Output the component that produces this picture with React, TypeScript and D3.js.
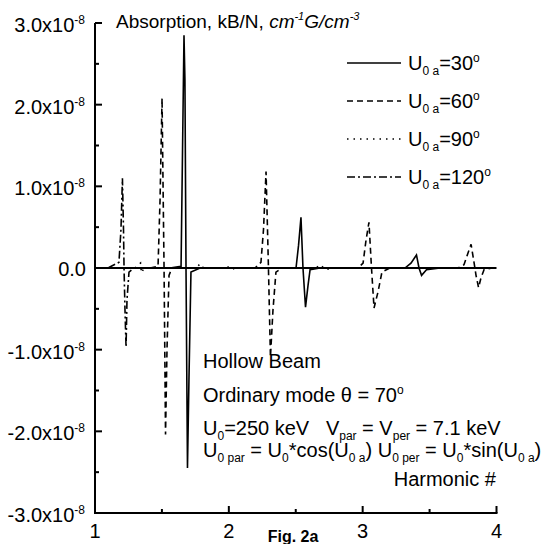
import React, { useEffect, useRef } from 'react';
import * as d3 from 'd3';

// harmonic number vs absorption (units of 1e-8)
const harm30 = [1.56, 1.643, 1.654, 1.665, 1.672, 1.68, 1.691, 1.702, 1.717, 1.785, 2.502, 2.521, 2.539, 2.554, 2.573, 2.592, 2.607, 2.681, 3.316, 3.361, 3.402, 3.421, 3.44, 3.477, 3.578];
const abs30 = [0, 0.02, 1.44, 2.85, 2.3, 0, -2.45, -1.37, -0.05, 0, 0, 0.28, 0.62, 0, -0.48, -0.21, -0.02, 0, 0, 0.06, 0.16, 0, -0.09, -0.02, 0];

const harm60 = [1.411, 1.471, 1.486, 1.501, 1.508, 1.516, 1.527, 1.538, 1.553, 1.575, 2.196, 2.24, 2.259, 2.278, 2.289, 2.296, 2.311, 2.33, 2.352, 2.397, 2.965, 3.003, 3.025, 3.047, 3.066, 3.085, 3.115, 3.144, 3.204, 3.712, 3.757, 3.78, 3.81, 3.832, 3.847, 3.866, 3.884, 3.907, 3.966];
const abs60 = [0, 0.02, 0.83, 2.08, 1.08, 0, -2.04, -1.0, -0.09, 0, 0, 0.07, 0.47, 1.18, 0.47, 0, -1.09, -0.51, -0.05, 0, 0, 0.06, 0.34, 0.56, 0, -0.49, -0.29, -0.05, 0, 0, 0.04, 0.15, 0.29, 0.07, -0.09, -0.24, -0.12, -0.02, 0];

const harm90 = [1.299, 1.34, 1.347, 1.366, 1.755, 1.785, 1.8, 1.822, 1.971, 1.986, 2.024, 2.046, 2.651, 2.681, 2.711, 2.733, 2.756];
const abs90 = [0, 0.06, -0.06, 0, 0, 0.05, 0.01, 0, 0, 0.02, -0.02, 0, 0, 0.04, 0, -0.02, 0];

const harm120 = [1.097, 1.179, 1.194, 1.205, 1.213, 1.217, 1.224, 1.232, 1.239, 1.254, 1.291];
const abs120 = [0, 0.07, 0.47, 1.1, 0.47, 0, -0.51, -0.97, -0.39, -0.05, 0];

const legendAngles = ['30', '60', '90', '120'];
const yTicks = [-3, -2, -1, 0, 1, 2, 3];
const yMinor = [-2.5, -1.5, -0.5, 0.5, 1.5, 2.5];
const xTicks = [1, 2, 3, 4];
const xMinor = [1.5, 2.5, 3.5];

type Seg = { t: string; k?: 'sub' | 'sup' | 'i' | 'isup' };

const FONT = '"Liberation Sans", Arial, sans-serif';

function richText(g: any, x: number, y: number, segs: Seg[], anchor = 'start', size = 20, small = 12) {
  const t = g
    .append('text')
    .attr('x', x)
    .attr('y', y)
    .attr('font-size', size)
    .attr('text-anchor', anchor)
    .style('white-space', 'pre');
  let cur = 0;
  segs.forEach((s) => {
    const off = s.k === 'sub' ? 5 : s.k === 'sup' || s.k === 'isup' ? -8 : 0;
    const sp = t.append('tspan').attr('dy', off - cur).text(s.t);
    if (s.k === 'sub' || s.k === 'sup' || s.k === 'isup') sp.attr('font-size', small);
    if (s.k === 'i' || s.k === 'isup') sp.attr('font-style', 'italic');
    cur = off;
  });
  return t;
}

const App: React.FC = () => {
  const ref = useRef(null);

  useEffect(() => {
    if (!ref.current) return;
    const svg = d3.select(ref.current);
    svg.selectAll('*').remove();

    const x = d3.scaleLinear().domain([1, 4]).range([95, 496.5]);
    const y = d3.scaleLinear().domain([-3e-8, 3e-8]).range([513, 23]);

    const g = svg.append('g').attr('font-family', FONT).attr('fill', '#000');

    // zero line
    g.append('line')
      .attr('x1', x(1)).attr('x2', x(4))
      .attr('y1', y(0)).attr('y2', y(0))
      .attr('stroke', '#000').attr('stroke-width', 2);

    // series
    const line = d3
      .line<[number, number]>()
      .x((d) => x(d[0]))
      .y((d) => y(d[1] * 1e-8));

    const series = [
      { h: harm30, v: abs30, dash: null },
      { h: harm60, v: abs60, dash: '6,4' },
      { h: harm90, v: abs90, dash: '1.5,5' },
      { h: harm120, v: abs120, dash: '8,3,2,3' },
    ];
    series.forEach((s) => {
      const pts = s.h.map((h, i) => [h, s.v[i]] as [number, number]);
      g.append('path')
        .attr('d', line(pts))
        .attr('fill', 'none')
        .attr('stroke', '#000')
        .attr('stroke-width', 1.6)
        .attr('stroke-dasharray', s.dash);
    });

    // axes
    g.append('line')
      .attr('x1', x(1)).attr('x2', x(1))
      .attr('y1', y(3e-8)).attr('y2', y(-3e-8) + 1)
      .attr('stroke', '#000').attr('stroke-width', 2);
    g.append('line')
      .attr('x1', x(1) - 1).attr('x2', x(4) + 1)
      .attr('y1', y(-3e-8)).attr('y2', y(-3e-8))
      .attr('stroke', '#000').attr('stroke-width', 2);

    yTicks.forEach((t) => {
      g.append('line')
        .attr('x1', x(1)).attr('x2', x(1) + 7)
        .attr('y1', y(t * 1e-8)).attr('y2', y(t * 1e-8))
        .attr('stroke', '#000').attr('stroke-width', 2);
      if (t === 0) {
        richText(g, 86, y(0) + 8, [{ t: '0.0' }], 'end');
      } else {
        richText(g, 85, y(t * 1e-8) + 9, [{ t: `${t.toFixed(1)}x10` }, { t: '-8', k: 'sup' }], 'end');
      }
    });
    yMinor.forEach((t) => {
      g.append('line')
        .attr('x1', x(1)).attr('x2', x(1) + 4)
        .attr('y1', y(t * 1e-8)).attr('y2', y(t * 1e-8))
        .attr('stroke', '#000').attr('stroke-width', 2);
    });
    xTicks.forEach((t) => {
      g.append('line')
        .attr('x1', x(t)).attr('x2', x(t))
        .attr('y1', y(-3e-8)).attr('y2', y(-3e-8) - 7)
        .attr('stroke', '#000').attr('stroke-width', 2);
      richText(g, x(t), 538, [{ t: String(t) }], 'middle');
    });
    xMinor.forEach((t) => {
      g.append('line')
        .attr('x1', x(t)).attr('x2', x(t))
        .attr('y1', y(-3e-8)).attr('y2', y(-3e-8) - 4)
        .attr('stroke', '#000').attr('stroke-width', 2);
    });

    // title
    richText(g, 116, 28, [
      { t: 'Absorption, kB/N, ' },
      { t: 'cm', k: 'i' },
      { t: '-1', k: 'isup' },
      { t: 'G/cm', k: 'i' },
      { t: '-3', k: 'isup' },
    ], 'start', 19, 11);

    // legend
    legendAngles.forEach((a, i) => {
      const ly = 63 + i * 38;
      g.append('line')
        .attr('x1', 347).attr('x2', 401)
        .attr('y1', ly).attr('y2', ly)
        .attr('stroke', '#000').attr('stroke-width', 1.6)
        .attr('stroke-dasharray', series[i].dash);
      richText(g, 408, ly + 7, [
        { t: 'U' },
        { t: '0 a', k: 'sub' },
        { t: `=${a}` },
        { t: 'o', k: 'sup' },
      ]);
    });

    // annotations
    richText(g, 203, 368, [{ t: 'Hollow Beam' }]);
    richText(g, 203, 402, [{ t: 'Ordinary mode \u03b8 = 70' }, { t: 'o', k: 'sup' }]);
    richText(g, 203, 435, [
      { t: 'U' }, { t: '0', k: 'sub' }, { t: '=250 keV   V' }, { t: 'par', k: 'sub' },
      { t: ' = V' }, { t: 'per', k: 'sub' }, { t: ' = 7.1 keV' },
    ]);
    richText(g, 203, 457, [
      { t: 'U' }, { t: '0 par', k: 'sub' }, { t: ' = U' }, { t: '0', k: 'sub' },
      { t: '*cos(U' }, { t: '0 a', k: 'sub' }, { t: ') U' }, { t: '0 per', k: 'sub' },
      { t: ' = U' }, { t: '0', k: 'sub' }, { t: '*sin(U' }, { t: '0 a', k: 'sub' }, { t: ')' },
    ]);
    richText(g, 496, 486, [{ t: 'Harmonic #' }], 'end');

    g.append('text')
      .attr('x', 293).attr('y', 542)
      .attr('text-anchor', 'middle')
      .attr('font-size', 16)
      .attr('font-weight', 'bold')
      .text('Fig. 2a');

    return () => {
      svg.selectAll('*').remove();
    };
  }, []);

  return (
    <svg
      ref={ref}
      width={544}
      height={544}
      style={{ position: 'absolute', left: 0, top: 0, background: '#fff' }}
    ></svg>
  );
};

export default App;
